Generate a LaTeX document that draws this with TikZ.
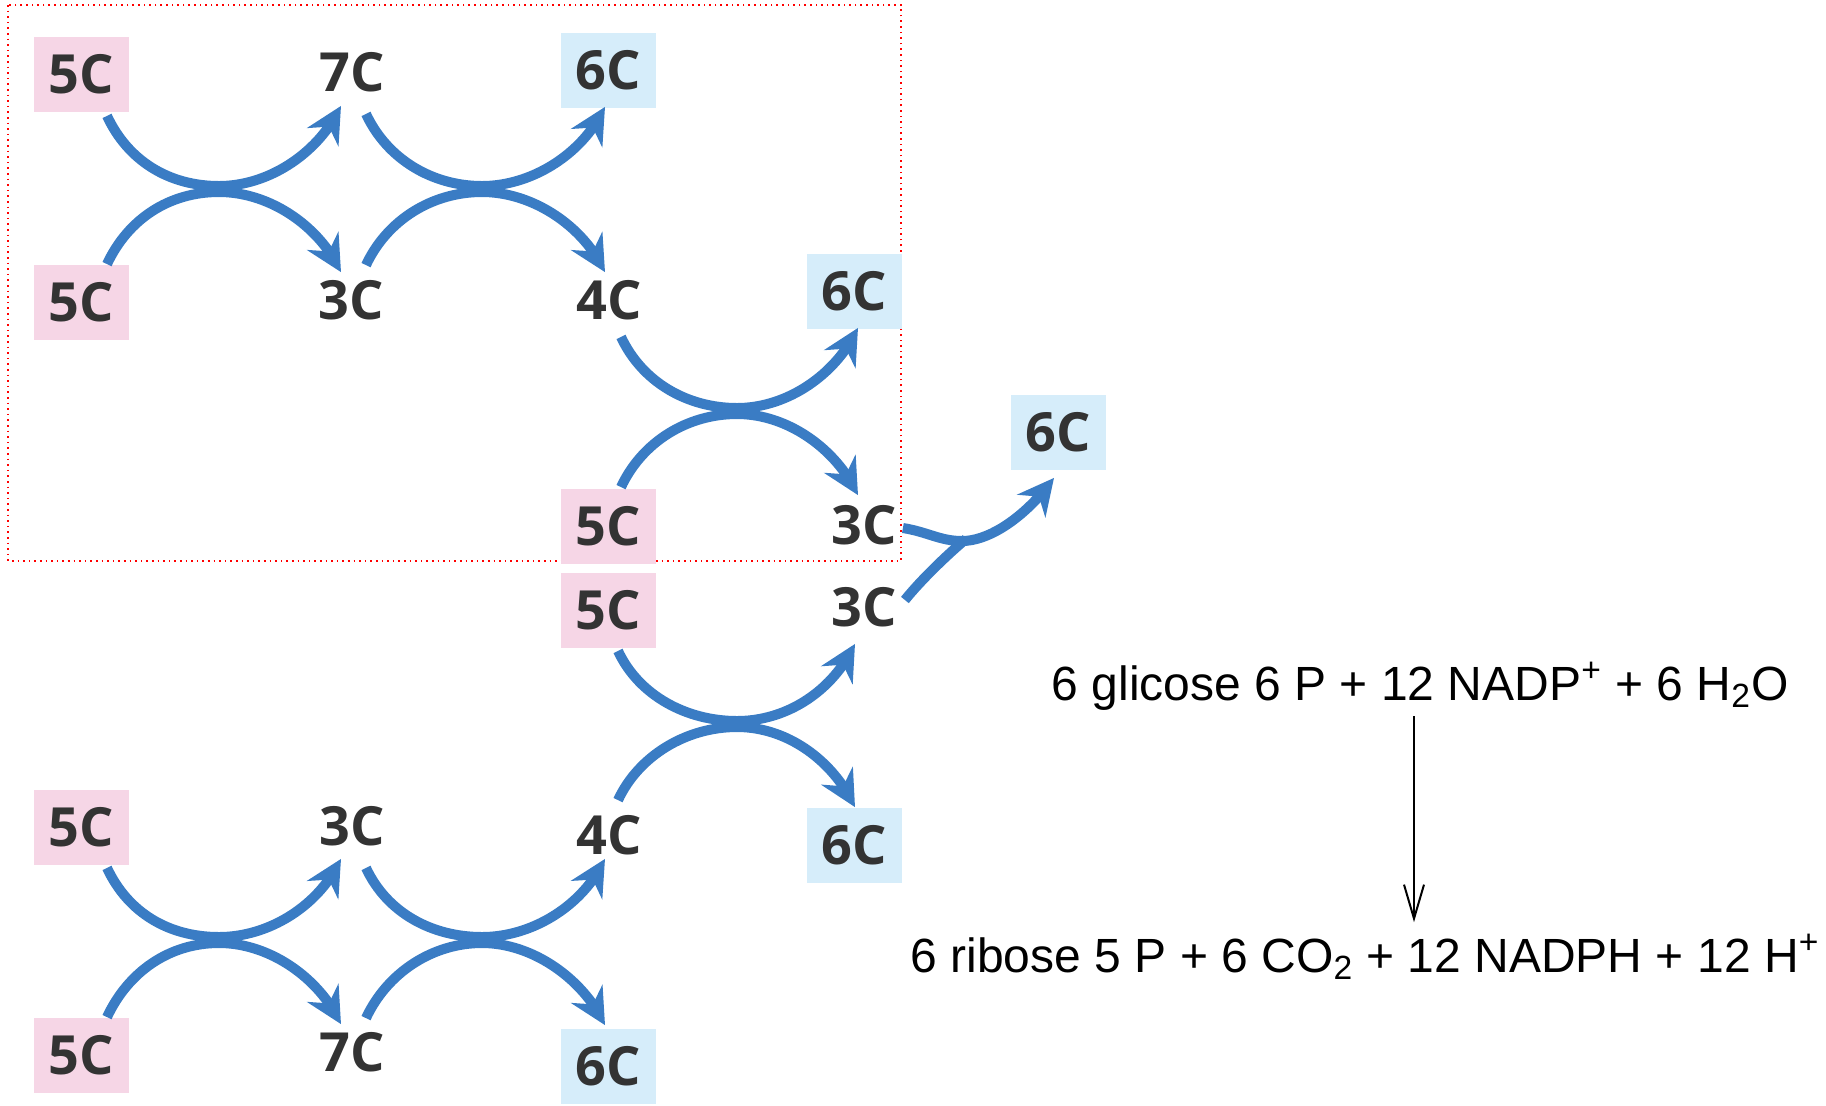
\documentclass[tikz,border=0pt]{standalone}
\usepackage{fontspec}
\setmainfont{Liberation Sans}
\newfontfamily\labelfont{Open Sans}
\usetikzlibrary{arrows.meta,bending,calc}
\definecolor{flowblue}{RGB}{58,124,196}
\definecolor{pinkbox}{RGB}{246,214,230}
\definecolor{bluebox}{RGB}{214,237,250}
\definecolor{labeltext}{RGB}{51,51,51}
\newcommand\ucurve[3]{\draw[flow] #1 .. controls +(21,45) and +(-50,0) .. #2 .. controls +(50,0) and +(-22,47) .. #3;}
\newcommand\ncurve[3]{\draw[flow] #1 .. controls +(21,-45) and +(-50,0) .. #2 .. controls +(50,0) and +(-22,-47) .. #3;}
\begin{document}
\begin{tikzpicture}[x=0.5pt,y=-0.5pt,
  lbl/.style={minimum width=47.5pt,minimum height=37.5pt,inner sep=0pt,
    font=\labelfont\bfseries\fontsize{27}{30}\selectfont,text=labeltext},
  pinkc/.style={lbl,fill=pinkbox},
  bluec/.style={lbl,fill=bluebox},
  plainc/.style={lbl},
  flowline/.style={draw=flowblue,line width=5pt},
  flow/.style={flowline,-{Stealth[length=18pt,width=18pt,inset=6pt]}},
  eq/.style={inner sep=0pt,font=\fontsize{24}{28}\selectfont,anchor=base},
  eqarrow/.style={line width=1pt,-{Straight Barb[length=17pt,width=10pt]}},
  redframe/.style={draw=red,dotted,line width=0.8pt}]
\useasboundingbox (0,0) rectangle (1826,1105);
\draw[redframe] (8,5) rectangle (901,561);
% nodes
\node[pinkc] (p1) at (81,74) {5C};
\node[plainc] (t7a) at (352,72) {7C};
\node[bluec] (b1) at (608,70) {6C};
\node[pinkc] (p2) at (81,302) {5C};
\node[plainc] (t3a) at (351,300) {3C};
\node[plainc] (t4a) at (609,300) {4C};
\node[bluec] (b2) at (854,291) {6C};
\node[bluec] (b3) at (1058,432) {6C};
\node[pinkc] (p3) at (608,526) {5C};
\node[plainc] (t3b) at (864,525) {3C};
\node[pinkc] (p4) at (608,610) {5C};
\node[plainc] (t3c) at (864,607) {3C};
\node[plainc] (t4b) at (609,835) {4C};
\node[bluec] (b4) at (854,845) {6C};
\node[pinkc] (p5) at (81,827) {5C};
\node[plainc] (t3d) at (352,826) {3C};
\node[pinkc] (p6) at (81,1055) {5C};
\node[plainc] (t7b) at (352,1052) {7C};
\node[bluec] (b5) at (608,1066) {6C};
% crossing points
\coordinate (x1) at (219,189);
\coordinate (x2) at (482,189);
\coordinate (x3) at (737,411);
\coordinate (x5) at (737,724);
\coordinate (x6) at (219,940);
\coordinate (x7) at (482,940);
\coordinate (ym) at (962,541);
\coordinate (yj) at (966,539);
% curves
\ucurve{($(p1.south)+(26,4)$)}{($(x1)+(0,-3)$)}{($(t7a.south)+(-11,-4)$)}
\ncurve{($(p2.north)+(26,0)$)}{($(x1)+(0,3)$)}{($(t3a.north)+(-10,10)$)}
\ucurve{($(t7a.south)+(14,4)$)}{($(x2)+(0,-3)$)}{($(b1.south)+(-3,-1)$)}
\ncurve{($(t3a.north)+(15,3)$)}{($(x2)+(0,3)$)}{($(t4a.north)+(-4,10)$)}
\ucurve{($(t4a.south)+(12,-1)$)}{($(x3)+(0,-3)$)}{($(b2.south)+(4,-1)$)}
\ncurve{($(p3.north)+(13,-1)$)}{($(x3)+(0,3)$)}{($(t3b.north)+(-6,8)$)}
\ucurve{($(p4.south)+(10,3)$)}{($(x5)+(0,-3)$)}{($(t3c.south)+(-9,-1)$)}
\ncurve{($(t4b.north)+(9,3)$)}{($(x5)+(0,3)$)}{($(b4.north)+(1,0)$)}
\ucurve{($(p5.south)+(26,3)$)}{($(x6)+(0,-3)$)}{($(t3d.south)+(-11,-5)$)}
\ncurve{($(p6.north)+(26,0)$)}{($(x6)+(0,3)$)}{($(t7b.north)+(-11,10)$)}
\ucurve{($(t3d.south)+(14,4)$)}{($(x7)+(0,-3)$)}{($(t4b.south)+(-4,-14)$)}
\ncurve{($(t7b.north)+(14,4)$)}{($(x7)+(0,3)$)}{($(b5.north)+(-3,-3)$)}
% Y merge
\draw[flow] ($(t3b.east)+(-9,3)$) .. controls +(25,4) and +(-22,0) .. (ym) .. controls +(30,0) and +(-25,35) .. ($(b3.south)+(-4,8)$);
\draw[flowline] ($(t3c.east)+(-7,-7)$) .. controls +(16,-20) and +(-18,15) .. (yj);
% equation
\node[eq] (eq1) at (1420,700) {6 glicose 6 P + 12 NADP\textsuperscript{+} + 6 H\textsubscript{2}O};
\node[eq] (eq2) at (1365,972) {6 ribose 5 P + 6 CO\textsubscript{2} + 12 NADPH + 12 H\textsuperscript{+}};
\coordinate (ax) at (1414,0);
\draw[eqarrow] ($(eq1.south -| ax)+(0,6)$) -- ($(eq2.north -| ax)+(0,-12)$);
\end{tikzpicture}
\end{document}
